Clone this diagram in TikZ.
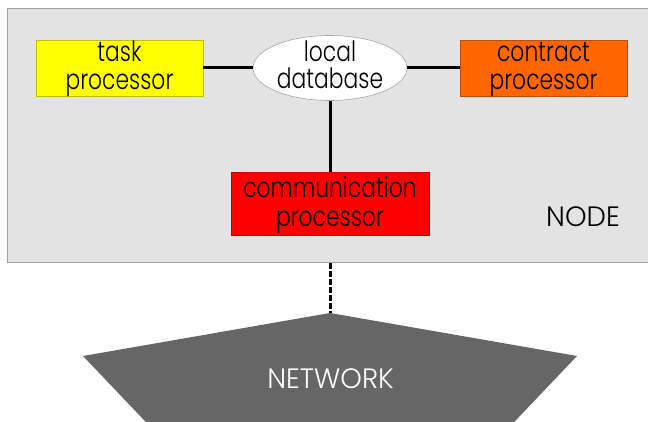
\documentclass[tikz,border=0pt]{standalone}
\usepackage{fontspec}
\setmainfont{Poppins}[UprightFont=* Light]
\usepackage{graphicx}
\usetikzlibrary{shapes.geometric}
\newcommand{\sq}[1]{\scalebox{0.78}[1]{#1}}
\newcommand{\sqc}[1]{\scalebox{0.98}[1]{#1}}
\definecolor{nodegray}{HTML}{E3E3E3}
\definecolor{nodeborder}{HTML}{A0A0A0}
\definecolor{taskyellow}{HTML}{FFFF00}
\definecolor{contractorange}{HTML}{FF6600}
\definecolor{commred}{HTML}{FF0000}
\definecolor{netgray}{HTML}{666666}
\tikzset{
  lbl/.style={font=\fontsize{28}{29}\selectfont, inner sep=0pt, anchor=base},
  procbox/.style={line width=0.6pt, minimum height=56pt, inner sep=0pt},
  link/.style={line width=3pt, black},
}
\begin{document}
\begin{tikzpicture}[x=1pt,y=-1pt]
\useasboundingbox (0,0) rectangle (648,422);
\clip (0,0) rectangle (648,422);
\fill[white] (0,0) rectangle (648,422);
% outer NODE area
\node[draw=nodeborder, fill=nodegray, line width=1pt, minimum width=648pt, minimum height=254pt, inner sep=0pt, anchor=north west] (nodearea) at (7,8) {};
\node[lbl] (nodelbl) at (583,227) {\sqc{NODE}};
% boxes
\node[procbox, fill=taskyellow, draw=taskyellow!75!black, minimum width=167pt] (task) at (119.5,68) {};
\node[lbl] (task1) at (119.5,62) {\sq{task}};
\node[lbl] (task2) at (119.5,90) {\sq{processor}};
\node[procbox, fill=contractorange, draw=contractorange!75!black, minimum width=167pt] (contract) at (543.5,68) {};
\node[lbl] (contract1) at (543.5,62) {\sq{contract}};
\node[lbl] (contract2) at (543.5,90) {\sq{processor}};
\node[procbox, fill=commred, draw=commred!75!black, minimum width=198pt, minimum height=63pt] (comm) at (330,203.5) {};
\node[lbl] (comm1) at (330,198) {\sq{communication}};
\node[lbl] (comm2) at (330,227) {\sq{processor}};
\node[ellipse, draw=black!35, line width=0.6pt, fill=white, minimum width=154pt, minimum height=65pt, inner sep=0pt] (db) at (330,68) {};
\node[lbl] (db1) at (330,62) {\sq{local}};
\node[lbl] (db2) at (330,89) {\sq{database}};
% connectors
\draw[link] (task.east) -- (db.west);
\draw[link] (db.east) -- (contract.west);
\draw[link] (db.south) -- (comm.north);
% network
\coordinate (ntop) at (330,313);
\coordinate (nleft) at (83,356);
\coordinate (nright) at (577,356);
\coordinate (nbl) at (182,460);
\coordinate (nbr) at (478,460);
\fill[netgray] (ntop) -- (nright) -- (nbr) -- (nbl) -- (nleft) -- cycle;
\node[lbl, text=white] (network) at (330.5,388) {\sqc{NETWORK}};
\draw[line width=3pt, dash pattern=on 6pt off 2pt] (nodearea.south -| ntop) -- (ntop);
\end{tikzpicture}
\end{document}
